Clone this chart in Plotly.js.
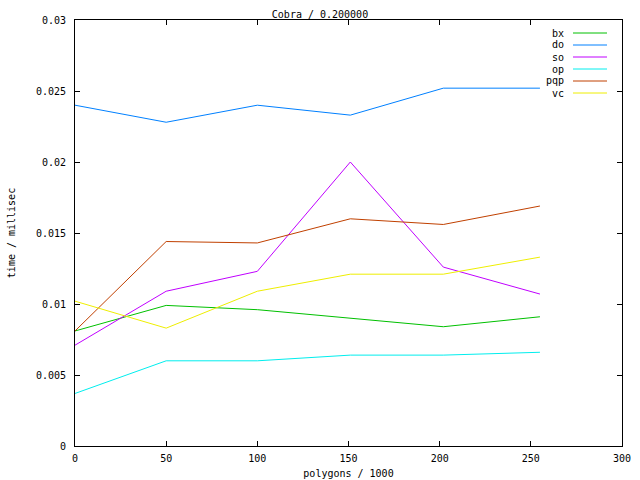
<!DOCTYPE html>
<html>
<head>
<meta charset="utf-8">
<script src="https://cdn.plot.ly/plotly-3.0.1.min.js"></script>
<style>body{margin:0;background:#fff;}#chart{width:640px;height:480px;}</style>
</head>
<body>
<div id="chart"></div>
<script>
const polygons = [0, 50, 100, 151, 202, 255];
const bx  = [0.0081, 0.0099, 0.0096, 0.0090, 0.0084, 0.0091];
const doS = [0.0240, 0.0228, 0.0240, 0.0233, 0.0252, 0.0252];
const so  = [0.0071, 0.0109, 0.0123, 0.0200, 0.0126, 0.0107];
const op  = [0.0037, 0.0060, 0.0060, 0.0064, 0.0064, 0.0066];
const pqp = [0.0081, 0.0144, 0.0143, 0.0160, 0.0156, 0.0169];
const vc  = [0.0102, 0.0083, 0.0109, 0.0121, 0.0121, 0.0133];
const seriesNames = ['bx', 'do', 'so', 'op', 'pqp', 'vc'];
const seriesValues = [bx, doS, so, op, pqp, vc];
const seriesColors = ['#00c000', '#0080ff', '#c000ff', '#00eeee', '#c04000', '#eeee00'];
const yTickVals = [0, 0.005, 0.01, 0.015, 0.02, 0.025, 0.03];
const yTickText = ['0', '0.005', '0.01', '0.015', '0.02', '0.025', '0.03'];
const xTickVals = [0, 50, 100, 150, 200, 250, 300];

const FONT = 'DejaVu Sans Mono, monospace';
const traces = seriesNames.map((n, i) => ({
  x: polygons, y: seriesValues[i], name: n, type: 'scatter', mode: 'lines',
  line: {color: seriesColors[i], width: 1}, showlegend: false
}));

const annotations = [];
const shapes = [];
const rowH = 12;
seriesNames.forEach((n, i) => {
  const yPix = 33 + i * rowH;
  const yPaper = 1 - (yPix - 20) / 426;
  annotations.push({xref: 'paper', yref: 'paper', x: (566 - 75) / 547, y: yPaper,
    text: n, showarrow: false, xanchor: 'right', yanchor: 'middle',
    font: {family: FONT, size: 10, color: '#000'}});
  shapes.push({type: 'line', xref: 'paper', yref: 'paper',
    x0: (573 - 75) / 547, x1: (607 - 75) / 547, y0: yPaper, y1: yPaper,
    line: {color: seriesColors[i], width: 1}});
});

const layout = {
  width: 640, height: 480,
  margin: {l: 75, r: 18, t: 20, b: 34, pad: 0},
  paper_bgcolor: '#fff', plot_bgcolor: '#fff',
  font: {family: FONT, size: 10, color: '#000'},
  title: {text: 'Cobra / 0.200000', x: 0.5, xanchor: 'center', y: 1 - 14 / 480, yanchor: 'middle',
    font: {family: FONT, size: 10, color: '#000'}},
  xaxis: {range: [0, 300], tickvals: xTickVals, ticks: 'inside', ticklen: 5, tickcolor: '#000',
    ticklabelstandoff: 3,
    showline: true, linecolor: '#000', linewidth: 1, mirror: 'ticks', showgrid: false, zeroline: false,
    title: {text: 'polygons / 1000', standoff: 6, font: {family: FONT, size: 10}}},
  yaxis: {range: [0, 0.03], tickvals: yTickVals, ticktext: yTickText, ticks: 'inside', ticklen: 5, tickcolor: '#000',
    ticklabelstandoff: 6,
    showline: true, linecolor: '#000', linewidth: 1, mirror: 'ticks', showgrid: false, zeroline: false,
    title: {text: 'time / millisec', standoff: 18, font: {family: FONT, size: 10}}},
  annotations: annotations,
  shapes: shapes,
  showlegend: false
};
Plotly.newPlot('chart', traces, layout, {displayModeBar: false, staticPlot: true});
</script>
</body>
</html>
